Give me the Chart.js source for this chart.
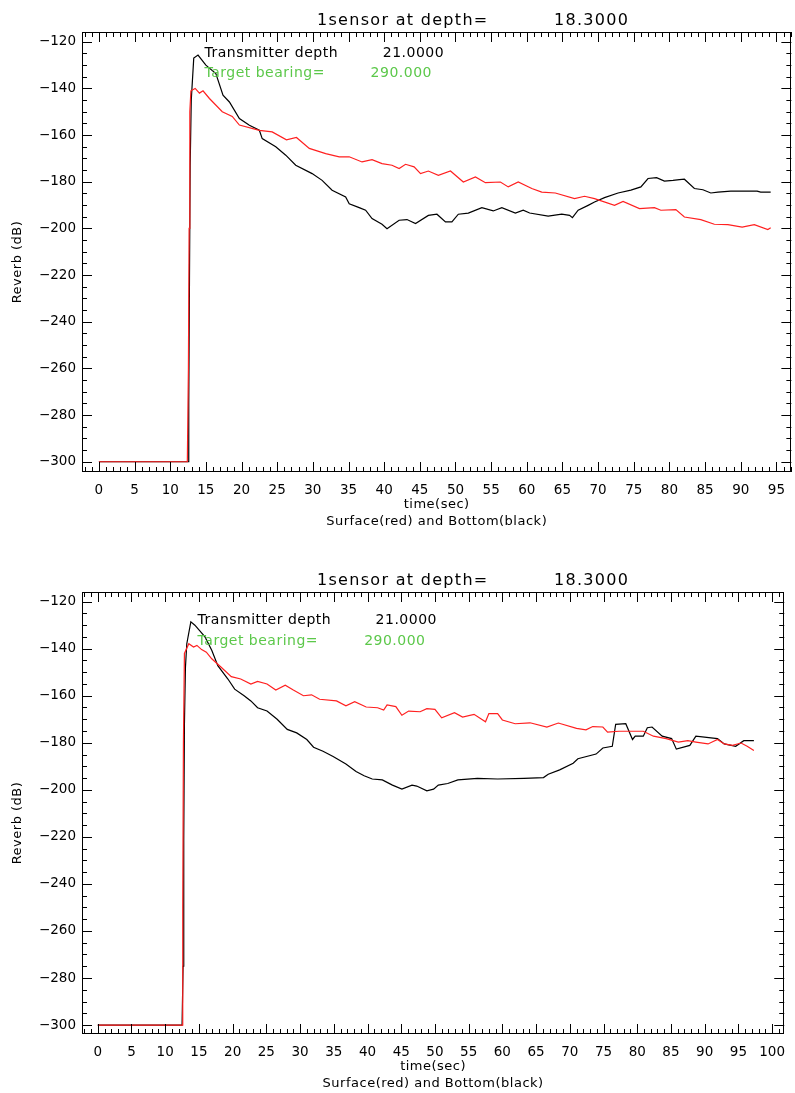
<!DOCTYPE html>
<html lang="en">
<head>
<meta charset="UTF-8">
<title>Reverb vs time</title>
<script src="https://cdn.jsdelivr.net/npm/chart.js"></script>
<style>
    body { margin: 0; background: #ffffff; }
    .plot { position: absolute; left: 0; }
    #top { top: 0; }
    #bottom { top: 560px; }
</style>
</head>
<body>
<canvas id="top" class="plot" width="795" height="540"></canvas>
<canvas id="bottom" class="plot" width="795" height="533"></canvas>
<script>
// ---- texts ----
const titleLabel = '1sensor at depth=';
const titleValue = '18.3000';
const txLabel = 'Transmitter depth';
const txValue = '21.0000';
const bearingLabel = 'Target bearing=';
const bearingValue = '290.000';
const xTitle = 'time(sec)';
const xSubTitle = 'Surface(red) and Bottom(black)';
const yTitle = 'Reverb (dB)';

// ---- ticks ----
const yTickValues = [-300, -280, -260, -240, -220, -200, -180, -160, -140, -120];
const xTicksTop = [0, 5, 10, 15, 20, 25, 30, 35, 40, 45, 50, 55, 60, 65, 70, 75, 80, 85, 90, 95];
const xTicksBottom = [0, 5, 10, 15, 20, 25, 30, 35, 40, 45, 50, 55, 60, 65, 70, 75, 80, 85, 90, 95, 100];

// ---- top panel: surface (red) ----
const topRedT = [0, 12.4, 12.55, 12.65, 12.75, 12.9, 13.5, 14.1, 14.6, 15.5, 17.3, 18.7, 19.7, 22.5, 24.3, 26.3, 27.7, 29.5,
    31.8, 33.7, 35.1, 36.9, 38.3, 39.7, 41.1, 42.1, 43.0, 44.2, 45.1, 46.2, 47.6, 49.3, 51.1, 52.8, 54.2, 56.3, 57.4, 58.8,
    60.7, 62.1, 64.0, 66.7, 68.1, 69.5, 72.3, 73.5, 75.8, 77.9, 78.8, 80.9, 82.1, 84.4, 86.3, 88.2, 90.2, 91.9, 93.8, 94.2];
const topRedDb = [-300, -300, -260, -200, -150, -141, -140, -142, -141, -144.3, -150, -152, -155.7, -158, -158.6, -162, -161, -165.7,
    -167.9, -169.3, -169.3, -171.5, -170.5, -172.2, -172.9, -174.3, -172.5, -173.6, -176.5, -175.4, -177.2, -175.4, -180.1, -177.9, -180.4, -180.1, -182.2, -180.1,
    -182.9, -184.4, -184.8, -187.2, -186.2, -187.2, -190.1, -188.4, -191.5, -191.1, -192.2, -191.9, -195.1, -196.2, -198.2, -198.4, -199.4, -198.4, -200.5, -199.7];

// ---- top panel: bottom (black) ----
const topBlackT = [0, 12.5, 12.6, 12.7, 12.8, 12.95, 13.3, 13.9, 15.0, 16.4, 17.4, 18.3, 19.7, 21.1, 22.5, 22.9, 24.8, 26.2, 27.6,
    29.9, 31.3, 32.7, 34.6, 35.1, 36.5, 37.4, 38.3, 39.7, 40.4, 42.1, 43.2, 44.4, 46.2, 47.4, 48.6, 49.5, 50.4, 51.8, 53.7,
    55.3, 56.5, 58.4, 59.5, 60.4, 63.0, 64.9, 66.0, 66.4, 67.2, 68.6, 69.5, 70.9, 72.8, 74.6, 76.0, 77.0, 78.2, 79.3, 80.5,
    81.4, 82.1, 83.5, 84.7, 85.8, 86.8, 88.6, 92.3, 92.8, 94.2];
const topBlackDb = [-300, -300, -275, -222, -173, -145, -127, -125.7, -130, -133.6, -142.9, -145.8, -152.9, -155.8, -157.9, -161.5, -165, -168.6, -172.9,
    -176.5, -179.4, -183.6, -186.5, -189.4, -191.1, -192.2, -195.8, -198.2, -200.1, -196.5, -196.2, -197.9, -194.4, -193.9, -197.2, -197.2, -193.9, -193.4, -191.1,
    -192.5, -191.1, -193.4, -192.2, -193.4, -194.7, -193.9, -194.4, -195.4, -192.2, -190.1, -188.7, -186.8, -184.8, -183.6, -182.2, -178.6, -178.2, -179.7, -179.4,
    -179.1, -178.9, -182.9, -183.4, -184.8, -184.4, -184, -184, -184.4, -184.4];

// ---- bottom panel: surface (red) ----
const botRedT = [0, 12.5, 12.6, 12.7, 12.85, 13.5, 14.2, 14.7, 15.4, 16.1, 16.9, 18.3, 19.8, 21.2, 22.7, 23.7, 25.1, 26.4, 27.8,
    29.0, 30.5, 31.7, 32.9, 35.4, 36.8, 38.1, 39.8, 41.5, 42.4, 42.9, 44.2, 45.1, 46.1, 47.8, 48.8, 50.0, 51.0, 52.9, 54.1,
    55.8, 57.5, 58.0, 59.3, 60.0, 61.9, 64.1, 66.6, 68.3, 71.0, 72.4, 73.4, 74.9, 75.6, 77.3, 79.2, 80.9, 82.4, 84.3, 86.1,
    87.5, 88.7, 90.5, 91.9, 92.9, 94.1, 95.4, 96.3, 97.3];
const botRedDb = [-300, -300, -250, -180, -142, -137.9, -139.3, -138.6, -140.4, -141.5, -144.3, -147.9, -151.9, -152.9, -155, -153.9, -155, -157.6, -155.5,
    -157.6, -160, -159.6, -161.5, -162.2, -164.3, -162.5, -164.8, -165.1, -166.1, -163.9, -164.6, -168.3, -166.5, -166.8, -165.5, -165.8, -169.4, -167.2, -169.1,
    -167.9, -171.1, -167.6, -167.6, -170.3, -171.9, -171.5, -173.3, -171.6, -173.9, -174.5, -173.1, -173.3, -175.5, -175.1, -175.1, -175.1, -177.2, -178.2, -179.7,
    -179.1, -179.7, -180.5, -178.6, -180.5, -181.1, -180.1, -181.5, -183.3];

// ---- bottom panel: bottom (black) ----
const botBlackT = [0, 12.5, 12.65, 12.75, 12.85, 13.0, 13.2, 13.8, 14.4, 15.9, 16.9, 17.8, 19.3, 20.3, 21.7, 22.7, 23.7, 25.1, 26.6,
    28.1, 29.5, 31.0, 32.0, 33.4, 34.9, 36.8, 38.3, 39.5, 40.7, 42.2, 43.7, 45.1, 46.6, 47.3, 48.8, 49.8, 50.5, 51.9, 53.4,
    56.3, 59.3, 63.2, 66.1, 66.8, 68.5, 70.5, 71.2, 73.9, 74.9, 76.3, 76.8, 78.3, 79.3, 79.7, 80.9, 81.5, 82.2, 83.7, 85.1,
    85.8, 87.8, 88.7, 91.9, 92.9, 94.6, 95.8, 97.3];
const botBlackDb = [-300, -300, -275, -222, -172, -148, -137.9, -128.6, -130, -135, -140.7, -147.2, -152.9, -157.2, -160, -162.2, -165.1, -166.5, -170,
    -174.3, -175.8, -178.6, -181.9, -183.6, -185.8, -189, -192.2, -194, -195.4, -195.8, -198, -199.7, -198, -198.4, -200.4, -199.7, -198, -197.3, -195.8,
    -195.1, -195.4, -195.1, -194.8, -193.4, -191.5, -188.7, -186.8, -184.8, -182.2, -181.5, -172.2, -171.9, -178.6, -177.2, -177.2, -173.6, -173.3, -177.2, -178.2,
    -182.7, -181.1, -177.2, -178.2, -180.5, -181.5, -179.1, -179.1];

const FONT = '"DejaVu Sans", sans-serif';
const GREEN = '#5cc84a';

function pts(ts, vs) {
    return ts.map((t, i) => ({ x: t, y: vs[i] }));
}

// IDL-style box, inward ticks and annotation text
const idlFrame = {
    id: 'idlFrame',
    afterDraw(chart, args, o) {
        const { ctx, chartArea: a } = chart;
        const x = chart.scales.x, y = chart.scales.y;
        ctx.save();
        ctx.strokeStyle = '#000';
        ctx.lineWidth = 1;
        ctx.strokeRect(Math.round(a.left) + 0.5, Math.round(a.top) + 0.5,
            Math.round(a.right - a.left) - 1, Math.round(a.bottom - a.top) - 1);
        ctx.beginPath();
        for (let t = Math.ceil(x.min); t <= x.max; t++) {
            const px = Math.round(x.getPixelForValue(t)) + 0.5;
            const len = t % 5 === 0 ? 10 : 5;
            ctx.moveTo(px, a.bottom); ctx.lineTo(px, a.bottom - len);
            ctx.moveTo(px, a.top); ctx.lineTo(px, a.top + len);
        }
        for (let v = Math.ceil(y.min / 5) * 5; v <= y.max; v += 5) {
            const py = Math.round(y.getPixelForValue(v)) + 0.5;
            const len = v % 20 === 0 ? 10 : 5;
            ctx.moveTo(a.left, py); ctx.lineTo(a.left + len, py);
            ctx.moveTo(a.right, py); ctx.lineTo(a.right - len, py);
        }
        ctx.stroke();

        ctx.fillStyle = '#000';
        ctx.textBaseline = 'alphabetic';
        ctx.textAlign = 'left';
        // title
        ctx.font = '16px ' + FONT;
        ctx.letterSpacing = '1.3px';
        ctx.fillText(titleLabel, a.left + 235, a.top - 7);
        ctx.fillText(titleValue, a.left + 472, a.top - 7);
        // annotations placed in data units
        ctx.font = '14px ' + FONT;
        ctx.letterSpacing = '0.5px';
        ctx.fillText(txLabel, x.getPixelForValue(o.labelX), y.getPixelForValue(o.txY));
        ctx.fillText(txValue, x.getPixelForValue(o.txValueX), y.getPixelForValue(o.txY));
        ctx.fillStyle = GREEN;
        ctx.fillText(bearingLabel, x.getPixelForValue(o.labelX), y.getPixelForValue(o.brY));
        ctx.fillText(bearingValue, x.getPixelForValue(o.brValueX), y.getPixelForValue(o.brY));
        // axis titles
        ctx.fillStyle = '#000';
        ctx.font = '13px ' + FONT;
        ctx.letterSpacing = '0.5px';
        ctx.textAlign = 'center';
        ctx.textBaseline = 'middle';
        const cx = (a.left + a.right) / 2;
        ctx.fillText(xTitle, cx, a.bottom + 33);
        ctx.fillText(xSubTitle, cx, a.bottom + 50);
        ctx.translate(18, (a.top + a.bottom) / 2 + 10);
        ctx.rotate(-Math.PI / 2);
        ctx.fillText(yTitle, 0, 0);
        ctx.restore();
    }
};

function makeChart(id, red, black, xmin, xmax, ymin, ymax, xTicks, xAxisHeight, ann) {
    return new Chart(document.getElementById(id).getContext('2d'), {
        type: 'line',
        data: {
            datasets: [
                { data: red, borderColor: '#ff2020', borderWidth: 1.2, pointRadius: 0, tension: 0, order: 0 },
                { data: black, borderColor: '#000000', borderWidth: 1.2, pointRadius: 0, tension: 0, order: 1 }
            ]
        },
        options: {
            responsive: false,
            animation: false,
            parsing: true,
            layout: { padding: { top: 32, left: 0, right: 1, bottom: 0 } },
            plugins: {
                legend: { display: false },
                tooltip: { enabled: false },
                idlFrame: ann
            },
            scales: {
                x: {
                    type: 'linear',
                    min: xmin,
                    max: xmax,
                    grid: { display: false, drawTicks: false },
                    border: { display: false },
                    afterBuildTicks: s => { s.ticks = xTicks.map(v => ({ value: v })); },
                    afterFit: s => { s.height = xAxisHeight; },
                    ticks: { autoSkip: false, maxRotation: 0, padding: 10, color: '#000', font: { family: FONT, size: 13.5 } }
                },
                y: {
                    min: ymin,
                    max: ymax,
                    grid: { display: false, drawTicks: false },
                    border: { display: false },
                    afterBuildTicks: s => { s.ticks = yTickValues.map(v => ({ value: v })); },
                    afterFit: s => { s.width = 82; },
                    ticks: {
                        padding: 6, color: '#000', font: { family: FONT, size: 13.5 },
                        callback: v => (v < 0 ? '\u2212' + Math.abs(v) : String(v))
                    }
                }
            }
        },
        plugins: [idlFrame]
    });
}

makeChart('top', pts(topRedT, topRedDb), pts(topBlackT, topBlackDb),
    -2.37, 97.1, -304.4, -115.8, xTicksTop, 68,
    { labelX: 14.8, txValueX: 39.8, brValueX: 38.1, txY: -126.6, brY: -135.2 });

makeChart('bottom', pts(botRedT, botRedDb), pts(botBlackT, botBlackDb),
    -2.34, 101.8, -303.8, -115.9, xTicksBottom, 59,
    { labelX: 14.8, txValueX: 41.2, brValueX: 39.5, txY: -129.6, brY: -138.6 });
</script>
</body>
</html>
